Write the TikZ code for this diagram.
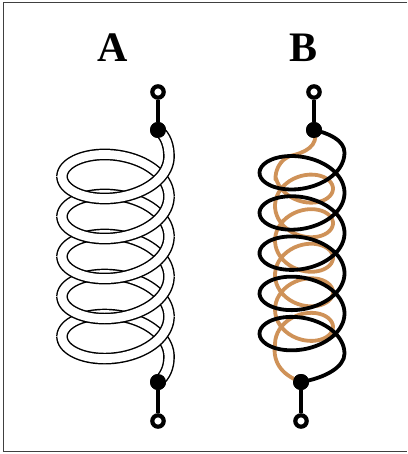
\documentclass[tikz,border=0pt]{standalone}
\usepackage{fontspec}
\setmainfont{Liberation Serif}
\tikzset{
  x=1bp,y=-1bp,
  declare function={
    ax(\t)=115.5+53.5*sin(\t r);
    ay(\t)=186.5+6.37*\t-31.4*cos(\t r);
    bx(\t)=302+42.5*sin(\t r);
    by(\t)=182.8+6.4*\t-26*cos(\t r);
    ox(\s)=304+29*sin(\s r);
    oy(\s)=180+5.5*\s+22*cos(\s r);
  },
  tube/.style={draw=black,double=white,line width=1.45bp,double distance=8.8bp},
  patchw/.style={draw=white,line width=8.8bp},
  blackcoil/.style={draw=black,line width=3.8bp},
  orangecoil/.style={draw=coilorange,line width=3.8bp,line join=round},
  stem/.style={draw=black,line width=3.6bp},
  soliddot/.style={circle,fill=black,inner sep=0pt,minimum size=16bp},
  opendot/.style={circle,draw=black,fill=white,line width=4.2bp,inner sep=0pt,minimum size=11.4bp},
  title/.style={font=\bfseries\fontsize{42bp}{44bp}\selectfont,inner sep=0pt},
  frame/.style={draw=black!75,line width=1bp}
}
\definecolor{coilorange}{HTML}{CF9258}
\begin{document}
\begin{tikzpicture}
\useasboundingbox (0,0) rectangle (407,454);
\draw[frame] (407,2.5) -- (3.5,2.5) -- (3.5,451.5) -- (407,451.5);
\node[title] (la) at (113,48) {A};
\node[title] (lb) at (303.5,48) {B};
% terminals A
\node[soliddot] (a1) at (158,130) {};
\node[soliddot] (a2) at (158,382) {};
\coordinate (a1c1) at (169,146);
\coordinate (a1c2) at (166,136);
\coordinate (a2c1) at (169,368);
\coordinate (a2c2) at (165,376);
% back halves of coil A
\foreach \n in {0,...,3}{
  \pgfmathsetmacro\ta{2*pi*\n-pi/2}
  \pgfmathsetmacro\tb{2*pi*\n+pi/2}
  \draw[tube] plot[smooth,domain=\ta:\tb,samples=40,variable=\t] ({ax(\t)},{ay(\t)});
}
\pgfmathsetmacro\ta{8*pi-pi/2}
\pgfmathsetmacro\tb{8*pi+pi/2}
\draw[tube] plot[smooth,domain=\ta:\tb,samples=40,variable=\t] ({ax(\t)},{ay(\t)}) .. controls (a2c1) and (a2c2) .. (a2.center);
% front halves of coil A
\pgfmathsetmacro\ta{-3*pi/2}
\pgfmathsetmacro\tb{-pi/2}
\draw[tube] (a1.center) .. controls (a1c2) and (a1c1) .. ({ax(\ta)},{ay(\ta)}) -- plot[smooth,domain=\ta:\tb,samples=40,variable=\t] ({ax(\t)},{ay(\t)});
\foreach \n in {0,...,3}{
  \pgfmathsetmacro\ta{2*pi*\n+pi/2}
  \pgfmathsetmacro\tb{2*pi*\n+3*pi/2}
  \draw[tube] plot[smooth,domain=\ta:\tb,samples=40,variable=\t] ({ax(\t)},{ay(\t)});
}
% close the seams where halves meet
\foreach \n in {-1,...,3}{
  \pgfmathsetmacro\ta{2*pi*\n+3*pi/2-0.05}
  \pgfmathsetmacro\tb{2*pi*\n+3*pi/2+0.05}
  \draw[patchw] plot[domain=\ta:\tb,samples=3,variable=\t] ({ax(\t)},{ay(\t)});
}
\foreach \n in {0,...,3}{
  \pgfmathsetmacro\ta{2*pi*\n+pi/2-0.05}
  \pgfmathsetmacro\tb{2*pi*\n+pi/2+0.05}
  \draw[patchw] plot[domain=\ta:\tb,samples=3,variable=\t] ({ax(\t)},{ay(\t)});
}
\node[soliddot] at (a1) {};
\node[soliddot] at (a2) {};
\node[opendot] (a0) at (158,92) {};
\node[opendot] (a3) at (158,421) {};
\draw[stem] (a0) -- (a1);
\draw[stem] (a2) -- (a3);
% terminals B
\node[soliddot] (b1) at (314,130) {};
\node[soliddot] (b2) at (301,382) {};
\coordinate (o1c1) at (320,146);
\coordinate (o1c2) at (304,153);
\coordinate (o2c1) at (272,365);
\coordinate (o2c2) at (285,376);
\coordinate (b1c1) at (328,133);
\coordinate (b1c2) at (344.5,140);
\coordinate (b2c1) at (344.5,367);
\coordinate (b2c2) at (325,378);
% orange coil
\pgfmathsetmacro\sa{-pi/2+0.25}
\pgfmathsetmacro\sb{8*pi+3*pi/2}
\draw[orangecoil] (b1.center) .. controls (o1c1) and (o1c2) .. (290,156) .. controls (280,160) and (275,170) .. (275.5,180)
  -- plot[smooth,domain=\sa:\sb,samples=220,variable=\s] ({ox(\s)},{oy(\s)}) .. controls (o2c1) and (o2c2) .. (b2.center);
% black coil
\pgfmathsetmacro\ta{-3*pi/2}
\pgfmathsetmacro\tb{8*pi+pi/2}
\draw[blackcoil] (b1.center) .. controls (b1c1) and (b1c2) .. ({bx(\ta)},{by(\ta)}) -- plot[smooth,domain=\ta:\tb,samples=220,variable=\t] ({bx(\t)},{by(\t)}) .. controls (b2c1) and (b2c2) .. (b2.center);
\node[soliddot] at (b1) {};
\node[soliddot] at (b2) {};
\node[opendot] (b0) at (314,92) {};
\node[opendot] (b3) at (301,421) {};
\draw[stem] (b0) -- (b1);
\draw[stem] (b2) -- (b3);
\end{tikzpicture}
\end{document}
